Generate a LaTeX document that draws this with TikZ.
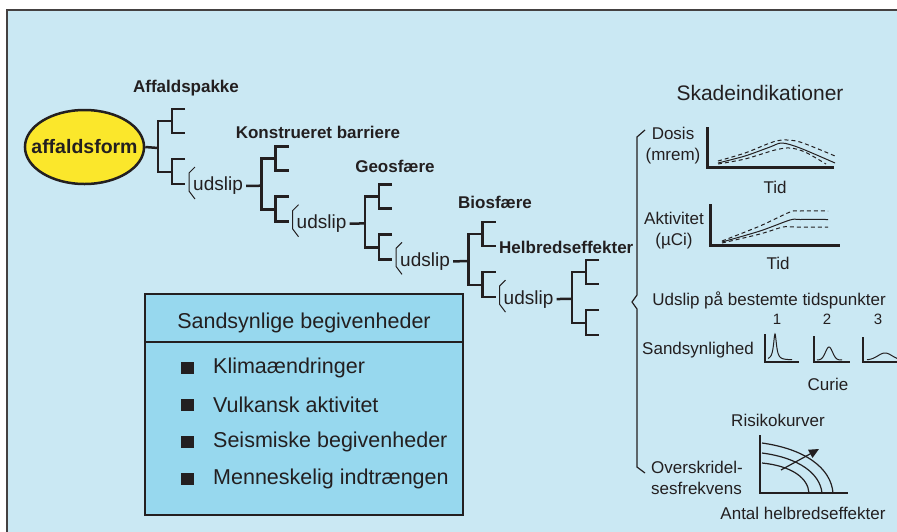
\documentclass[tikz,border=0pt]{standalone}
\usepackage{fontspec}
\setmainfont{Liberation Sans}
\usetikzlibrary{positioning,shapes,calc,arrows.meta}

\definecolor{bgblue}{HTML}{CAE8F3}
\definecolor{boxblue}{HTML}{97D8EE}
\definecolor{ink}{HTML}{231F20}
\definecolor{egg}{HTML}{FBE72B}

\tikzset{
  lvl/.style={font=\fontsize{17}{20}\selectfont\bfseries, text=ink},
  rel/.style={font=\fontsize{19}{22}\selectfont, text=ink, inner sep=0pt},
  small/.style={font=\fontsize{17}{21}\selectfont, text=ink, inner sep=0pt},
  big/.style={font=\fontsize{21.5}{24}\selectfont, text=ink, inner sep=0pt},
  branch/.style={ink, line width=2.5pt},
  axis/.style={ink, line width=3pt},
  curve/.style={ink, line width=1pt},
  dcurve/.style={ink, line width=1pt, dash pattern=on 4pt off 3pt},
}

\begin{document}
\begin{tikzpicture}[x=1pt,y=-1pt]
    \clip (0,0) rectangle (897,531);
    \fill[white] (0,0) rectangle (897,531);

    % Draw panel
    \draw[fill=bgblue, draw=ink!85, line width=2.5pt] (7,10) rectangle (910,545);

    % Draw waste form
    \node[ellipse, draw=ink, fill=egg, line width=2.5pt, minimum width=119pt, minimum height=74pt,
          inner xsep=-11pt, inner ysep=0pt, font=\fontsize{19.5}{22}\selectfont\bfseries, text=ink] (form) at (84.5,147) {affaldsform};

    % Draw event tree
    \foreach \i in {0,...,4} {
        \pgfmathsetmacro{\tx}{158+103.5*\i}
        \pgfmathsetmacro{\ty}{148+37.7*\i}
        \coordinate (t\i) at (\tx,\ty);
        \draw[branch] (\tx+14,\ty-27) -- (\tx,\ty-27) -- (\tx,\ty+24) -- (\tx+14,\ty+24);
        \draw[branch] (\tx+27,\ty-39) -- (\tx+14,\ty-39) -- (\tx+14,\ty-15) -- (\tx+27,\ty-15);
        \draw[branch] (\tx+27,\ty+11) -- (\tx+14,\ty+11) -- (\tx+14,\ty+36) -- (\tx+27,\ty+36);
    }
    \foreach \i in {0,...,3} {
        \pgfmathsetmacro{\tx}{158+103.5*\i}
        \pgfmathsetmacro{\ty}{148+37.7*\i}
        \draw[ink, line width=1pt] (\tx+37,\ty+19) -- (\tx+31,\ty+25) -- (\tx+31,\ty+43) -- (\tx+37,\ty+51);
        \node[rel, anchor=west] (u\i) at (\tx+35,\ty+38) {udslip};
    }
    \draw[branch] (form.east) -- (t0);
    \foreach \i [evaluate=\i as \j using int(\i+1)] in {0,...,3}
        \draw[branch, shorten <=3pt] (u\i.east) -- (t\j);

    % Draw tree labels
    \node[lvl] (pakke) at (186,88) {Affaldspakke};
    \node[lvl] (barriere) at (318,132) {Konstrueret barriere};
    \node[lvl] (geo) at (395,166) {Geosfære};
    \node[lvl] (bio) at (495,202) {Biosfære};
    \node[lvl, anchor=west, inner sep=0pt] (helbred) at (499,247) {Helbredseffekter};

    % Draw brace
    \draw[ink, line width=1.2pt] (645,130) -- (637,137) -- (637,295) -- (632,302) -- (637,309) -- (637,467) -- (645,473);

    % Draw damage indicators
    \node[font=\fontsize{21}{24}\selectfont, text=ink] (skade) at (760,93) {Skadeindikationer};

    \node[small, align=center] (dosis) at (673,146) {Dosis\\(mrem)};
    \draw[axis] (707,127) -- (707,167) -- (834,167);
    \draw[curve] plot[smooth] coordinates {(718,163) (745,156) (770,147) (782,143) (800,148) (835,163)};
    \draw[dcurve] plot[smooth] coordinates {(718,161) (745,153) (770,143) (782,140) (800,142) (835,156)};
    \draw[dcurve] plot[smooth] coordinates {(718,164) (745,159) (775,150) (790,148) (805,152) (826,164)};
    \node[small] (tid1) at (775,187) {Tid};

    \node[small, align=center] (akt) at (674,231) {Aktivitet\\(µCi)};
    \draw[axis] (710,204) -- (710,245) -- (840,245);
    \draw[curve] plot[smooth, tension=0.5] coordinates {(722,242) (760,231) (790,220) (800,219.5) (828,219.5)};
    \draw[dcurve] plot[smooth, tension=0.5] coordinates {(722,241) (760,226) (790,212) (800,211) (828,211)};
    \draw[dcurve] plot[smooth, tension=0.5] coordinates {(722,243) (760,234) (783,227) (795,227) (828,227)};
    \node[small] (tid2) at (778,263) {Tid};

    \node[small] (udtid) at (769,300) {Udslip på bestemte tidspunkter};
    \node[font=\fontsize{15}{18}\selectfont, text=ink] (n1) at (777,319) {1};
    \node[font=\fontsize{15}{18}\selectfont, text=ink] (n2) at (827,319) {2};
    \node[font=\fontsize{15}{18}\selectfont, text=ink] (n3) at (878,319) {3};
    \node[small] (sand) at (698,350) {Sandsynlighed};
    \draw[axis, line width=2.5pt] (765,334) -- (765,362) -- (799,362);
    \draw[curve] plot[domain=-7:17, samples=80] ({775+\x},{360-26/(1+(\x/1.8)^2)});
    \draw[axis, line width=2.5pt] (814,336) -- (814,362) -- (850,362);
    \draw[curve] plot[domain=-12:13, samples=50] ({829+\x},{360-13*exp(-(\x/5)^2)});
    \draw[axis, line width=2.5pt] (863,337) -- (863,362) -- (900,362);
    \draw[curve] plot[domain=-18:20, samples=50] ({885+\x},{360-7*exp(-(\x/10)^2)});
    \node[small] (curie) at (828,384) {Curie};

    \node[small] (risiko) at (778,420) {Risikokurver};
    \draw[axis, line width=2.5pt] (760,435) -- (760,493) -- (848,493);
    \draw[curve, line width=1.2pt] (762,443) .. controls (805,449) and (831,468) .. (833,493);
    \draw[curve, line width=1.2pt] (762,453) .. controls (800,458) and (820,474) .. (822,493);
    \draw[curve, line width=1.2pt] (762,463) .. controls (792,466) and (808,478) .. (809,493);
    \draw[curve, line width=1.2pt, -{Triangle[length=10pt,width=9pt]}] (781,470) -- (819,449);
    \node[small, align=left, anchor=west] (overskr) at (651,478) {Overskridel-\\sesfrekvens};
    \node[small] (antal) at (803,513) {Antal helbredseffekter};

    % Draw events box
    \draw[fill=boxblue, draw=ink, line width=2pt] (145,294) rectangle (463,515);
    \draw[ink, line width=2pt] (145,342) -- (463,342);
    \node[big] (sb) at (304,323) {Sandsynlige begivenheder};
    \foreach \t [count=\k] in {Klimaændringer, Vulkansk aktivitet, Seismiske begivenheder, Menneskelig indtrængen} {
        \pgfmathsetmacro{\yy}{368+37*(\k-1)}
        \fill[ink] (181,\yy-6.5) rectangle (194,\yy+6);
        \node[big, anchor=west] (k\k) at (213,\yy) {\t};
    }
\end{tikzpicture}
\end{document}
